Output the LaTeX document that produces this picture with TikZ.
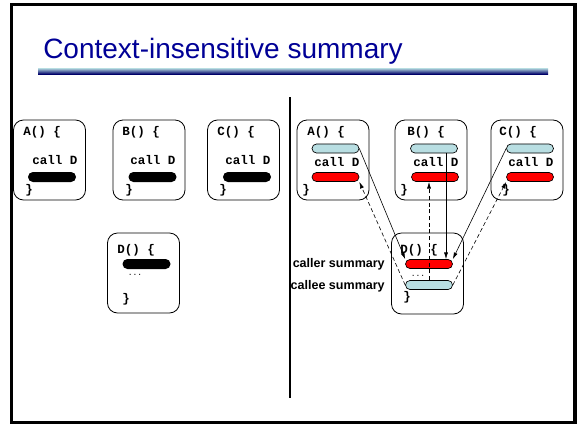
\documentclass[tikz,border=0pt]{standalone}
\usepackage{fontspec}
\setmainfont{Liberation Sans}
\newfontfamily\codefont{Liberation Mono}
\usetikzlibrary{arrows.meta,calc}
\definecolor{titleblue}{RGB}{0,0,150}
\definecolor{summcyan}{RGB}{184,222,226}
\definecolor{summred}{RGB}{255,0,0}

\begin{document}
\begin{tikzpicture}[x=0.75pt,y=-0.75pt,
    every node/.style={inner sep=0pt},
    procbox/.style={draw, line width=0.6pt, rounded corners=7.5pt, minimum width=54pt, minimum height=60pt},
    code/.style={font=\codefont\bfseries\fontsize{9.4}{11}\selectfont, anchor=west},
    dots/.style={font=\codefont\fontsize{6}{7}\selectfont},
    blackbar/.style={fill=black, rounded corners=3.7pt, minimum width=36pt, minimum height=7.5pt},
    summbar/.style={draw, line width=0.5pt, rounded corners=3.4pt, minimum width=35.25pt, minimum height=6.8pt},
    label/.style={font=\bfseries\fontsize{9.4}{11}\selectfont, anchor=east},
    call/.style={-{Latex[length=5pt,width=3pt]}, line width=0.45pt},
    ret/.style={call, dash pattern=on 3pt off 2pt}]
  \useasboundingbox (0,0) rectangle (581,425);

  % slide frame and title
  \draw[line width=2.3pt] (11.5,4.5) rectangle (575,422.5);
  \node[anchor=base west, text=titleblue, font=\fontsize{21}{25}\selectfont] (title) at (43,58) {Context-insensitive summary};
  \shade[top color=summcyan, bottom color=titleblue!70!black] (38,68) rectangle (548,74);
  \draw[line width=1.5pt] (290,97) -- (290,398);

  % left: callers and D
  \node[procbox] (lA) at (49.5,160) {};
  \node[code] (lAhead) at (23,132) {A() \{};
  \node[code] (lAcall) at (32,160) {call D};
  \node[blackbar] (lAbar) at (52,177) {};
  \node[code] (lAend) at (25,190) {\}};

  \node[procbox] (lB) at (149,160) {};
  \node[code] (lBhead) at (122,132) {B() \{};
  \node[code] (lBcall) at (130,160) {call D};
  \node[blackbar] (lBbar) at (152.5,177) {};
  \node[code] (lBend) at (125,190) {\}};

  \node[procbox] (lC) at (243.5,160) {};
  \node[code] (lChead) at (217,132) {C() \{};
  \node[code] (lCcall) at (225,160) {call D};
  \node[blackbar] (lCbar) at (247,177) {};
  \node[code] (lCend) at (219,190) {\}};

  \node[procbox] (lD) at (143.5,273) {};
  \node[code] (lDhead) at (117,250) {D() \{};
  \node[blackbar] (lDbar) at (146.5,264) {};
  \node[dots] (lDdots) at (135,275) {...};
  \node[code] (lDend) at (122,299) {\}};

  % right: callers and D with summaries
  \node[procbox] (rA) at (333,160) {};
  \node[code] (rAhead) at (307,132) {A() \{};
  \node[summbar, fill=summcyan] (rAcyan) at (335.5,148.5) {};
  \node[code] (rAcall) at (314,162) {call D};
  \node[summbar, fill=summred] (rAred) at (335.5,177) {};
  \node[code] (rAend) at (302,190) {\}};

  \node[procbox] (rB) at (431,160) {};
  \node[code] (rBhead) at (407,132) {B() \{};
  \node[summbar, fill=summcyan] (rBcyan) at (434,148.5) {};
  \node[code] (rBcall) at (413,162) {call D};
  \node[summbar, fill=summred] (rBred) at (435,177) {};
  \node[code] (rBend) at (400,190) {\}};

  \node[procbox] (rC) at (527,160) {};
  \node[code] (rChead) at (499,132) {C() \{};
  \node[summbar, fill=summcyan] (rCcyan) at (530,148.5) {};
  \node[code] (rCcall) at (508,162) {call D};
  \node[summbar, fill=summred] (rCred) at (530,177) {};
  \node[code] (rCend) at (502,190) {\}};

  \node[procbox, minimum height=60.75pt] (rD) at (427.5,273.5) {};
  \node[code] (rDhead) at (400,250) {D() \{};
  \node[summbar, fill=summred] (rDred) at (429,264) {};
  \node[dots] (rDdots) at (418,276) {...};
  \node[summbar, fill=summcyan] (rDcyan) at (429,285) {};
  \node[code] (rDend) at (403,297) {\}};

  \node[label] (caller) at (385,264) {caller summary};
  \node[label] (callee) at (385,286) {callee summary};

  % summary edges
  \draw[call] (rAcyan.east) -- (rDred.north west);
  \draw[ret] (rDcyan.west) -- (rAred.south east);
  \draw[call] ($(rBcyan.south)+(12,0)$) -- ($(rDred.north)+(17,0)$);
  \draw[ret] (rDcyan.north) -- ($(rBred.south)+(-6,0)$);
  \draw[call] (rCcyan.west) -- (rDred.north east);
  \draw[ret] (rDcyan.east) -- (rCred.south west);
\end{tikzpicture}
\end{document}
